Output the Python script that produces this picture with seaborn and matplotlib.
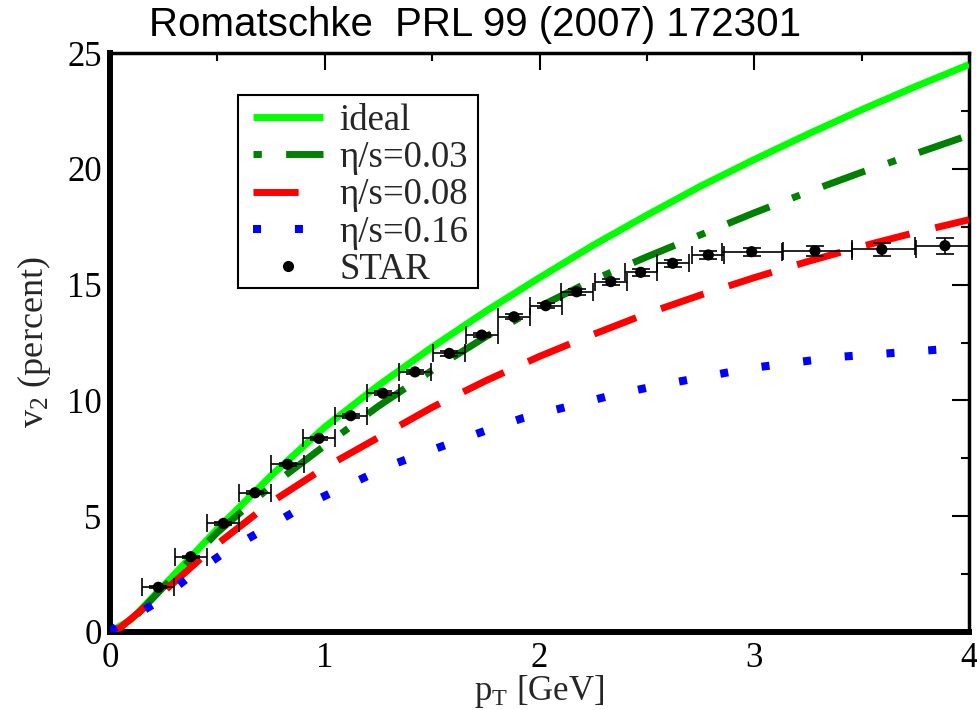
import numpy as np
import pandas as pd
import matplotlib
matplotlib.use("Agg")
import matplotlib.pyplot as plt
import seaborn as sns
from matplotlib.lines import Line2D
from matplotlib.patches import Rectangle

# ---------------- data ----------------
ideal_x = [0, 0.1, 0.25, 0.5, 0.75, 1.0, 1.25, 1.5, 1.75, 2.0, 2.25, 2.5, 2.75, 3.0, 3.25, 3.5, 3.75, 4.0]
ideal_y = [0, 0.55, 2.0, 4.45, 6.75, 8.85, 10.65, 12.3, 13.85, 15.3, 16.7, 18.0, 19.25, 20.4, 21.5, 22.55, 23.55, 24.5]

eta003_x = [0, 0.1, 0.25, 0.5, 0.75, 1.0, 1.25, 1.5, 1.75, 2.0, 2.25, 2.5, 2.75, 3.0, 3.25, 3.5, 3.75, 4.0]
eta003_y = [0, 0.5, 1.95, 4.3, 6.3, 8.05, 9.75, 11.3, 12.75, 14.05, 15.2, 16.2, 17.15, 18.1, 19.0, 19.85, 20.65, 21.45]

eta008_x = [0, 0.05, 0.25, 0.5, 0.75, 1.0, 1.25, 1.5, 1.75, 2.0, 2.25, 2.5, 2.75, 3.0, 3.25, 3.5, 3.75, 4.0]
eta008_y = [0, 0.2, 1.75, 3.8, 5.6, 7.1, 8.4, 9.7, 10.85, 11.9, 12.85, 13.75, 14.55, 15.3, 16.0, 16.65, 17.25, 17.8]

eta016_x = [0, 0.03, 0.21, 0.38, 0.55, 0.74, 0.92, 1.12, 1.31, 1.52, 1.72, 1.92, 2.13, 2.34,
            2.56, 2.77, 2.98, 3.19, 3.41, 3.62, 3.84, 4.0]
eta016_y = [0, 0.23, 1.24, 2.46, 3.54, 4.55, 5.53, 6.39, 7.21, 7.93, 8.6, 9.23, 9.73, 10.23,
            10.66, 11.02, 11.39, 11.64, 11.89, 12.03, 12.18, 12.3]

star_x = [0.225, 0.376, 0.528, 0.675, 0.827, 0.973, 1.121, 1.270, 1.420, 1.580, 1.731,
          1.881, 2.029, 2.173, 2.332, 2.471, 2.620, 2.786, 2.988, 3.283, 3.594, 3.888]
star_y = [1.93, 3.25, 4.69, 6.01, 7.24, 8.36, 9.34, 10.31, 11.23, 12.03, 12.82,
          13.61, 14.09, 14.69, 15.13, 15.53, 15.92, 16.28, 16.42, 16.46, 16.52, 16.68]
star_yerr = [0.05, 0.05, 0.05, 0.06, 0.06, 0.07, 0.08, 0.08, 0.09, 0.1, 0.1,
             0.1, 0.12, 0.12, 0.13, 0.14, 0.15, 0.16, 0.18, 0.22, 0.27, 0.35]
star_xerr_lo = [0.075] * 18 + [0.14, 0.15, 0.14, 0.14]
star_xerr_hi = [0.075] * 18 + [0.14, 0.17, 0.16, 0.14]

labels = ["ideal", "η/s=0.03", "η/s=0.08", "η/s=0.16", "STAR"]
title = "Romatschke  PRL 99 (2007) 172301"
xticks = [0, 1, 2, 3, 4]
yticks = [0, 5, 10, 15, 20, 25]

# ---------------- style ----------------
sns.set_style("white")
plt.rcParams["font.family"] = ["Liberation Serif", "DejaVu Serif"]
plt.rcParams["mathtext.fontset"] = "custom"
plt.rcParams["mathtext.rm"] = "Liberation Serif"
plt.rcParams["mathtext.it"] = "Liberation Serif:italic"

fig = plt.figure(figsize=(9.77, 7.10), dpi=100)
ax = fig.add_axes([110 / 977, 1 - 632 / 710, (969 - 110) / 977, (632 - 53) / 710])

lw = 5.0
ls003 = (0, (1.2, 3.5, 6.5, 3.5))
ls008 = (0, (6.5, 3.8))
ls016 = (0, (1.0, 4.2))
sns.lineplot(x=ideal_x, y=ideal_y, ax=ax, color="#00ff00", lw=lw, sort=False,
             solid_capstyle="butt", solid_joinstyle="round", zorder=3)
sns.lineplot(x=eta003_x, y=eta003_y, ax=ax, color="#008000", lw=lw, sort=False,
             linestyle=ls003, zorder=3)
sns.lineplot(x=eta008_x, y=eta008_y, ax=ax, color="#ff0000", lw=lw, sort=False,
             linestyle=ls008, zorder=3)
sns.lineplot(x=eta016_x, y=eta016_y, ax=ax, color="#0000ff", lw=5.8, sort=False,
             linestyle=ls016, zorder=3)

ax.errorbar(star_x, star_y, yerr=star_yerr, xerr=[star_xerr_lo, star_xerr_hi],
            fmt="none", ecolor="black", elinewidth=1.2, capsize=6.5, capthick=1.2, zorder=4)
sns.scatterplot(x=star_x, y=star_y, ax=ax, color="black", s=65, edgecolor="none", zorder=5)

ax.set_xlim(0, 4)
ax.set_ylim(0, 25)
ax.set_xticks(xticks)
ax.set_yticks(yticks)
ax.set_xticks(np.arange(0.5, 4, 1.0), minor=True)
ax.set_yticks(np.arange(2.5, 25, 5.0), minor=True)
ax.tick_params(which="both", direction="in", top=True, right=True, width=1.5,
               labelsize=25, colors="black")
ax.tick_params(which="major", length=12, pad=6)
ax.tick_params(which="minor", length=6)
ax.tick_params(axis="x", which="major", pad=7)

for side in ["left", "bottom"]:
    ax.spines[side].set_linewidth(4.3)
for side in ["top", "right"]:
    ax.spines[side].set_linewidth(2.5)
for s in ax.spines.values():
    s.set_color("black")

ax.set_xlabel(r"p$_\mathregular{T}$ [GeV]", fontsize=25, labelpad=-1)
ax.set_ylabel(r"v$_\mathregular{2}$ (percent)", fontsize=26, labelpad=10)

handles = [
    Line2D([], [], color="#00ff00", lw=lw, solid_capstyle="butt"),
    Line2D([], [], color="#008000", lw=lw, linestyle=ls003),
    Line2D([], [], color="#ff0000", lw=lw, linestyle=ls008),
    Line2D([], [], color="#0000ff", lw=5.8, linestyle=ls016),
    Line2D([], [], color="black", marker="o", markersize=7, linestyle="none"),
]
leg = ax.legend(handles, labels, loc="upper left", bbox_to_anchor=(0.1665, 0.9136),
                borderaxespad=0, fontsize=26.5, handlelength=1.9, handletextpad=0.45,
                labelspacing=0.08, borderpad=0.0, frameon=False)

# legend frame drawn as a rectangle in axes coordinates
ax.add_patch(Rectangle((0.149, 0.5941), 0.4284 - 0.149, 0.9275 - 0.5941,
                       transform=ax.transAxes, fill=True, facecolor="white",
                       edgecolor="black", lw=1.5, zorder=6))
leg.set_zorder(7)

fig.text(475 / 977, 1 - 25 / 710, title, family=["Liberation Sans", "DejaVu Sans"],
         fontsize=29, ha="center", va="center", color="black")

fig.savefig("out.png", dpi=100, facecolor="white")
